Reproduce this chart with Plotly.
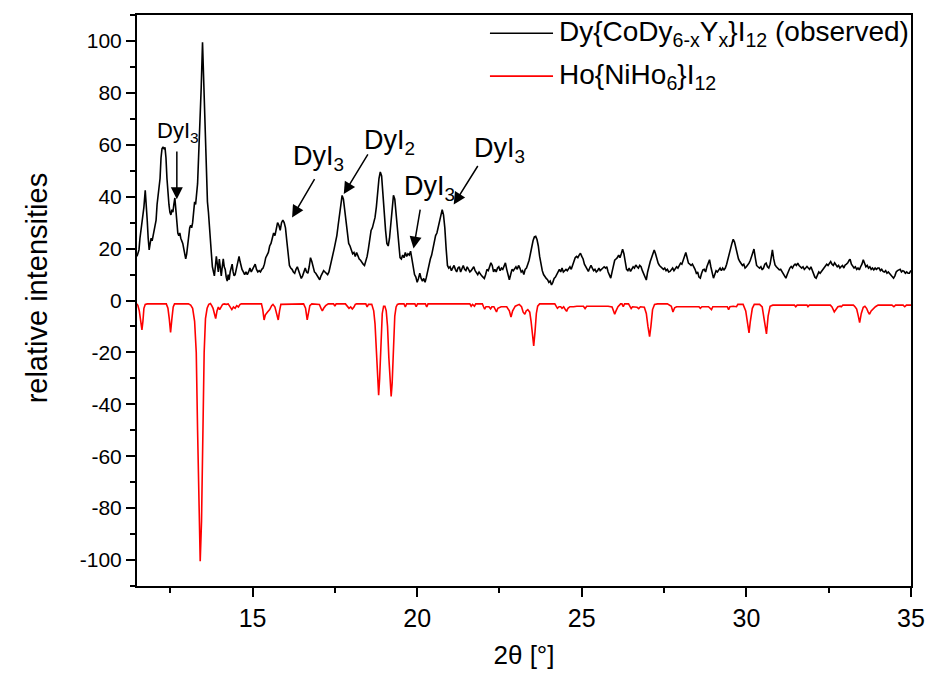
import plotly.graph_objects as go

# observed powder pattern: (2theta, relative intensity)
obs_points = [
    (11.49, 17), (11.52, 18), (11.55, 19.5), (11.58, 24), (11.61, 27), (11.64, 30), (11.67, 32), (11.70, 36),
    (11.74, 42.5), (11.77, 38), (11.80, 31), (11.83, 24), (11.86, 19.5), (11.89, 22), (11.92, 24), (11.95, 23),
    (11.98, 25), (12.01, 28), (12.04, 30), (12.07, 31), (12.10, 37), (12.13, 40), (12.16, 42), (12.19, 47),
    (12.22, 55), (12.25, 58.5), (12.28, 59), (12.31, 58.5), (12.34, 59), (12.37, 55), (12.40, 47), (12.43, 41),
    (12.46, 37), (12.49, 34), (12.52, 33), (12.55, 35), (12.58, 34), (12.61, 37), (12.64, 39.5), (12.67, 35),
    (12.70, 30), (12.73, 26), (12.76, 25), (12.79, 26), (12.82, 24), (12.85, 23), (12.88, 22), (12.91, 20),
    (12.94, 18), (12.97, 16), (13.00, 18), (13.03, 22), (13.06, 26), (13.09, 28), (13.12, 29), (13.15, 28),
    (13.18, 30), (13.21, 36), (13.24, 38), (13.27, 37), (13.30, 40), (13.33, 45), (13.36, 55), (13.40, 67),
    (13.44, 82), (13.48, 99.5), (13.52, 84), (13.56, 66), (13.60, 48), (13.63, 38), (13.66, 34), (13.69, 27),
    (13.72, 20), (13.75, 18), (13.78, 13), (13.81, 11), (13.84, 9.5), (13.87, 13), (13.90, 17), (13.93, 14),
    (13.96, 11), (13.99, 16), (14.02, 12), (14.05, 9.5), (14.08, 13), (14.11, 16), (14.14, 13), (14.17, 12),
    (14.20, 9), (14.23, 7.5), (14.26, 10), (14.29, 8), (14.32, 11), (14.35, 13), (14.38, 14), (14.41, 11),
    (14.44, 9.5), (14.47, 10), (14.50, 12), (14.53, 14), (14.56, 16), (14.59, 17), (14.62, 15), (14.65, 13),
    (14.68, 12), (14.72, 11), (14.76, 10), (14.80, 11), (14.84, 10), (14.88, 11), (14.92, 12.5), (14.96, 11),
    (15.00, 12), (15.04, 13.5), (15.08, 14), (15.12, 12), (15.16, 11), (15.20, 11.5), (15.24, 11), (15.28, 12),
    (15.32, 12.5), (15.36, 14), (15.40, 16.5), (15.44, 17.5), (15.48, 18.5), (15.52, 21), (15.56, 22), (15.60, 24),
    (15.64, 26), (15.68, 25), (15.72, 28), (15.76, 30), (15.80, 29), (15.84, 27), (15.88, 30), (15.92, 31),
    (15.96, 30), (16.00, 28), (16.04, 23), (16.08, 17), (16.12, 13.5), (16.16, 12.5), (16.20, 12), (16.24, 11),
    (16.28, 10.5), (16.32, 12), (16.36, 13), (16.40, 11.5), (16.44, 10), (16.48, 8.5), (16.52, 9.5), (16.56, 11),
    (16.60, 12.5), (16.64, 11), (16.68, 10.5), (16.72, 13), (16.76, 16.5), (16.80, 15), (16.84, 13), (16.88, 11),
    (16.92, 10.5), (16.96, 9.5), (17.00, 9), (17.04, 8), (17.08, 9.5), (17.12, 10.5), (17.16, 11.5), (17.20, 11),
    (17.24, 10.5), (17.28, 10), (17.32, 11), (17.36, 13), (17.40, 15), (17.44, 18), (17.48, 20), (17.52, 22.5),
    (17.56, 25), (17.60, 29), (17.64, 33), (17.68, 37), (17.72, 40.5), (17.76, 39), (17.80, 35), (17.84, 30),
    (17.88, 26), (17.92, 22), (17.96, 21), (18.00, 19.5), (18.04, 18), (18.08, 18.5), (18.12, 17), (18.16, 18.5),
    (18.20, 17), (18.24, 16), (18.28, 15.5), (18.32, 14.5), (18.36, 14), (18.40, 13.5), (18.44, 15), (18.48, 17),
    (18.52, 20), (18.56, 24), (18.60, 27), (18.64, 28), (18.68, 30), (18.72, 32), (18.76, 36), (18.80, 42),
    (18.84, 47), (18.88, 49.5), (18.92, 48), (18.96, 41), (19.00, 33), (19.04, 27), (19.08, 22), (19.12, 21),
    (19.16, 24), (19.20, 30), (19.24, 37), (19.28, 40.5), (19.32, 39), (19.36, 33), (19.40, 26), (19.44, 20),
    (19.48, 16.5), (19.52, 16), (19.56, 17.5), (19.60, 16.5), (19.64, 18.5), (19.68, 17), (19.72, 18), (19.76, 17.5),
    (19.80, 19), (19.84, 16), (19.88, 13), (19.92, 10), (19.96, 9), (20.00, 7), (20.04, 8.5), (20.08, 10.5),
    (20.12, 8.5), (20.16, 7.5), (20.20, 8.5), (20.24, 7), (20.28, 9), (20.32, 11.5), (20.36, 13), (20.40, 16),
    (20.44, 17.5), (20.48, 20), (20.52, 22.5), (20.56, 25), (20.60, 26), (20.64, 28), (20.68, 31), (20.72, 33),
    (20.76, 35), (20.80, 33), (20.84, 28), (20.88, 20), (20.92, 13.5), (20.96, 12.5), (21.00, 13), (21.04, 11.5),
    (21.08, 12.5), (21.12, 13.5), (21.16, 12), (21.20, 11), (21.24, 12.5), (21.28, 13), (21.32, 11), (21.36, 12),
    (21.40, 13.5), (21.44, 12), (21.48, 11.5), (21.52, 13), (21.56, 12), (21.60, 11), (21.64, 11.5), (21.68, 12.5),
    (21.72, 13), (21.76, 11.5), (21.80, 10.5), (21.84, 10), (21.88, 11), (21.92, 10), (21.96, 9.5), (22.00, 9),
    (22.04, 8.5), (22.08, 10), (22.12, 12), (22.16, 11.5), (22.20, 13), (22.24, 14.5), (22.28, 13.5), (22.32, 11),
    (22.36, 12), (22.40, 11), (22.44, 12.5), (22.48, 13), (22.52, 11.5), (22.56, 12.5), (22.60, 12), (22.64, 13.5),
    (22.68, 14.5), (22.72, 12), (22.76, 10), (22.80, 8), (22.84, 10), (22.88, 12), (22.92, 11.5), (22.96, 12.5),
    (23.00, 13), (23.04, 12), (23.08, 13.5), (23.12, 12.5), (23.16, 11), (23.20, 11.5), (23.24, 10), (23.28, 12),
    (23.32, 12.5), (23.36, 14), (23.40, 15.5), (23.44, 18), (23.48, 21), (23.52, 23), (23.56, 24.5), (23.60, 24.7),
    (23.64, 23.5), (23.68, 21), (23.72, 17), (23.76, 14), (23.80, 11.5), (23.84, 10), (23.88, 9), (23.92, 8.5),
    (23.96, 8), (24.00, 7), (24.04, 7.5), (24.08, 6), (24.12, 7), (24.16, 8.5), (24.20, 9), (24.24, 10),
    (24.28, 11.5), (24.32, 12), (24.36, 11), (24.40, 12.5), (24.44, 11), (24.48, 11.5), (24.52, 12), (24.56, 11.5),
    (24.60, 12.5), (24.64, 13), (24.68, 12), (24.72, 13.5), (24.76, 15), (24.80, 16.5), (24.84, 17), (24.88, 16.5),
    (24.92, 17.5), (24.96, 18.2), (25.00, 17), (25.04, 16), (25.08, 14), (25.12, 13), (25.16, 12), (25.20, 11.2),
    (25.24, 12.5), (25.28, 13.5), (25.32, 12.5), (25.36, 11.5), (25.40, 12), (25.44, 11), (25.48, 11.5), (25.52, 12.5),
    (25.56, 11.5), (25.60, 12), (25.64, 12.5), (25.68, 13), (25.72, 12.5), (25.76, 13), (25.80, 11), (25.84, 9.5),
    (25.88, 8.6), (25.92, 11), (25.96, 13.5), (26.00, 15.5), (26.04, 16), (26.08, 16.5), (26.12, 17.5), (26.16, 16.5),
    (26.20, 18), (26.24, 19.8), (26.28, 18), (26.32, 14), (26.36, 12), (26.40, 11.5), (26.44, 12.5), (26.48, 11.2),
    (26.52, 12), (26.56, 13), (26.60, 12.5), (26.64, 13.7), (26.68, 13), (26.72, 12.5), (26.76, 13.5), (26.80, 13),
    (26.84, 11.5), (26.88, 10.5), (26.92, 9), (26.96, 7.9), (27.00, 11), (27.04, 13.5), (27.08, 15), (27.12, 16.5),
    (27.16, 18), (27.20, 19.5), (27.24, 18), (27.28, 15.5), (27.32, 14.4), (27.36, 13.5), (27.40, 13), (27.44, 12.5),
    (27.48, 12), (27.52, 12.5), (27.56, 11.5), (27.60, 12), (27.64, 11), (27.68, 11.2), (27.72, 12), (27.76, 12.5),
    (27.80, 11.5), (27.84, 12.5), (27.88, 13), (27.92, 12.5), (27.96, 13.5), (28.00, 14.4), (28.04, 14), (28.08, 15.5),
    (28.12, 17), (28.16, 18.5), (28.20, 16.5), (28.24, 14.4), (28.28, 14), (28.32, 13.5), (28.36, 14), (28.40, 13.1),
    (28.44, 12), (28.48, 10.5), (28.52, 11), (28.56, 9), (28.60, 8.6), (28.64, 10.5), (28.68, 11.8), (28.72, 12),
    (28.76, 11), (28.80, 13), (28.84, 14.5), (28.88, 15.7), (28.92, 13), (28.96, 10), (29.00, 8.6), (29.04, 10),
    (29.08, 11.5), (29.12, 11), (29.16, 11.8), (29.20, 12.5), (29.24, 11.5), (29.28, 12.5), (29.32, 11.8), (29.36, 12.5),
    (29.40, 14), (29.44, 15.7), (29.48, 17.5), (29.52, 20), (29.56, 22), (29.60, 23.6), (29.64, 22.5), (29.68, 20),
    (29.72, 18.2), (29.76, 16), (29.80, 15), (29.84, 14.4), (29.88, 13.5), (29.92, 14), (29.96, 12.5), (30.00, 13),
    (30.04, 13.5), (30.08, 14.4), (30.12, 15.5), (30.16, 17), (30.20, 19), (30.23, 19.8), (30.27, 16.5), (30.31, 13.5),
    (30.35, 13), (30.40, 12.5), (30.44, 13), (30.48, 11.8), (30.52, 12.5), (30.56, 14), (30.60, 14.4), (30.64, 13),
    (30.68, 12.5), (30.72, 14), (30.76, 17), (30.79, 19.5), (30.83, 16), (30.87, 13.7), (30.91, 13), (30.95, 12.5),
    (31.00, 11.8), (31.04, 12), (31.08, 11), (31.12, 10.5), (31.16, 9.5), (31.20, 8.6), (31.24, 10), (31.28, 11.5),
    (31.32, 12.5), (31.36, 13.1), (31.40, 12.5), (31.44, 13.5), (31.48, 14), (31.52, 13.5), (31.56, 14.4), (31.60, 13.5),
    (31.64, 13), (31.68, 12.5), (31.72, 13), (31.76, 12), (31.80, 12.5), (31.84, 13.1), (31.88, 12.5), (31.92, 12),
    (31.96, 13), (32.00, 11.8), (32.04, 10.5), (32.08, 9), (32.12, 8.6), (32.16, 10), (32.20, 11), (32.24, 10.5),
    (32.28, 11.2), (32.32, 12), (32.36, 12.5), (32.40, 13.1), (32.44, 14), (32.48, 13.5), (32.52, 14.5), (32.56, 15),
    (32.60, 14), (32.64, 13.5), (32.68, 14.5), (32.72, 13.7), (32.76, 13), (32.80, 13.5), (32.84, 12.5), (32.88, 13.1),
    (32.92, 13.5), (32.96, 12.5), (33.00, 13.7), (33.04, 14), (33.08, 14.5), (33.12, 15.5), (33.15, 15.9), (33.19, 14),
    (33.23, 13), (33.27, 12.5), (33.31, 13), (33.35, 12), (33.39, 12.5), (33.43, 11.8), (33.47, 13), (33.51, 14),
    (33.55, 15.7), (33.59, 14.5), (33.63, 13), (33.67, 13.5), (33.71, 12.5), (33.75, 13), (33.79, 12), (33.83, 12.5),
    (33.87, 11.8), (33.91, 12.5), (33.95, 12), (33.99, 12.5), (34.03, 12.5), (34.07, 11.5), (34.11, 12), (34.15, 11.2),
    (34.19, 11), (34.23, 11.5), (34.27, 10.5), (34.31, 11), (34.35, 10.5), (34.39, 10), (34.43, 9.5), (34.47, 8.6),
    (34.51, 9.5), (34.55, 11), (34.59, 11.5), (34.63, 11.8), (34.67, 12), (34.71, 11), (34.75, 11.5), (34.79, 11.2),
    (34.83, 10.5), (34.87, 11), (34.91, 10.5), (34.95, 10.5), (35.00, 11.6),
]

# calculated pattern of Ho{NiHo6}I12, plotted downwards
calc_points = [
    (11.49, -1.3), (11.52, -2), (11.56, -4), (11.60, -8), (11.64, -11.3), (11.67, -8), (11.70, -3), (11.74, -1.5),
    (11.80, -1.3), (12.38, -1.3), (12.43, -3), (12.47, -7), (12.51, -12.3), (12.55, -7), (12.59, -2.5), (12.63, -1.3),
    (13.05, -1.3), (13.12, -1.8), (13.18, -3), (13.24, -8), (13.29, -20), (13.33, -50), (13.37, -85), (13.41, -100.5),
    (13.45, -85), (13.49, -50), (13.53, -20), (13.57, -7), (13.62, -3), (13.67, -1.5), (13.72, -1.2), (13.76, -2),
    (13.80, -3), (13.84, -5), (13.88, -7), (13.92, -4), (13.96, -2.5), (14.00, -3.5), (14.04, -2.5), (14.09, -1.5),
    (14.14, -1.3), (14.20, -1.5), (14.26, -1.3), (14.33, -2.5), (14.37, -3.5), (14.42, -2.5), (14.47, -3), (14.52, -2),
    (14.57, -2.5), (14.62, -1.5), (14.66, -1.3), (15.27, -1.3), (15.31, -3.5), (15.35, -7.5), (15.39, -5.5), (15.45, -4.5),
    (15.52, -3.5), (15.58, -2), (15.62, -1.5), (15.68, -2.5), (15.74, -5), (15.78, -7.5), (15.82, -4), (15.86, -1.5),
    (16.55, -1.3), (16.61, -3), (16.66, -7.5), (16.70, -4), (16.74, -2), (16.80, -1.3), (17.03, -1.5), (17.08, -3),
    (17.12, -4), (17.16, -3), (17.22, -2), (17.30, -1.3), (17.46, -1.3), (17.50, -2.2), (17.54, -1.3), (17.82, -1.3),
    (17.88, -2.2), (17.93, -3), (17.98, -2.5), (18.03, -3.3), (18.08, -2.5), (18.12, -1.5), (18.16, -1.3), (18.44, -1.3),
    (18.48, -2.5), (18.52, -1.5), (18.62, -1.5), (18.68, -4), (18.72, -9), (18.76, -20), (18.80, -33), (18.83, -36.5),
    (18.86, -30), (18.90, -15), (18.94, -5), (18.98, -2.2), (19.02, -2.2), (19.06, -4), (19.10, -10), (19.14, -22),
    (19.18, -34), (19.21, -37), (19.24, -32), (19.28, -16), (19.32, -6), (19.36, -2.5), (19.40, -1.5), (19.45, -1.3),
    (19.60, -1.3), (19.64, -2.5), (19.68, -1.3), (19.93, -1.3), (19.97, -2.4), (20.01, -1.3), (20.25, -1.3), (20.29, -2.5),
    (20.33, -1.3), (21.60, -1.3), (21.64, -2.2), (21.68, -1.5), (21.74, -2.2), (21.78, -1.3), (21.98, -1.3), (22.02, -2.5),
    (22.05, -3.3), (22.09, -2.4), (22.18, -2.4), (22.23, -3.2), (22.27, -2.4), (22.33, -2.4), (22.37, -3.5), (22.41, -4.4),
    (22.45, -3.0), (22.55, -2.4), (22.72, -2.4), (22.80, -4), (22.85, -6.4), (22.90, -4), (22.98, -2.2), (23.10, -1.5),
    (23.17, -2.4), (23.22, -4.5), (23.27, -5.3), (23.31, -4), (23.36, -3.5), (23.42, -4.5), (23.46, -8), (23.50, -14),
    (23.54, -17.5), (23.58, -12), (23.62, -5), (23.66, -2.2), (23.72, -1.3), (24.18, -1.3), (24.22, -2.5), (24.26, -3.0),
    (24.31, -2.4), (24.36, -2.4), (24.40, -3.0), (24.45, -2.4), (24.50, -3.5), (24.54, -4.2), (24.58, -3.0), (24.64, -2.4),
    (24.75, -2.4), (24.85, -2.2), (25.05, -2.2), (25.10, -3.1), (25.15, -2.2), (25.80, -2.2), (25.92, -2.5), (25.96, -4),
    (26.00, -5.3), (26.04, -4), (26.10, -2.4), (26.18, -1.3), (26.22, -1.3), (26.26, -2.4), (26.30, -1.3), (26.42, -1.3),
    (26.46, -2.5), (26.50, -3.1), (26.54, -2.4), (26.62, -2.4), (26.68, -2.6), (26.73, -3.1), (26.78, -2.4), (26.90, -2.6),
    (26.96, -5), (27.01, -10), (27.06, -13.9), (27.10, -10), (27.15, -3.5), (27.21, -1.5), (27.30, -1.3), (27.60, -1.3),
    (27.72, -2.2), (27.77, -4.4), (27.82, -2.8), (27.88, -2.4), (28.56, -2.4), (28.60, -3.0), (28.65, -2.4), (28.85, -2.4),
    (28.90, -3.0), (28.94, -3.5), (28.98, -2.4), (29.42, -2.4), (29.46, -3.5), (29.50, -2.4), (29.60, -2.2), (29.70, -2.4),
    (29.74, -1.5), (29.90, -1.5), (29.98, -4), (30.03, -9), (30.08, -12.5), (30.12, -8), (30.18, -3), (30.24, -1.5),
    (30.40, -1.5), (30.48, -2.5), (30.55, -8), (30.61, -12.9), (30.66, -6), (30.72, -2.2), (30.80, -1.8), (31.46, -1.8),
    (31.50, -2.4), (31.54, -1.8), (31.84, -1.8), (31.87, -2.4), (31.91, -1.8), (32.55, -1.8), (32.60, -2.5), (32.67, -4.4),
    (32.72, -3.5), (32.78, -2.4), (32.85, -2.2), (32.88, -2.4), (32.93, -1.8), (33.25, -1.8), (33.30, -2.4), (33.35, -3.3),
    (33.40, -6), (33.44, -8.5), (33.49, -5), (33.55, -2.6), (33.60, -2.2), (33.65, -3), (33.70, -4.5), (33.74, -5.3),
    (33.79, -4), (33.86, -3), (33.92, -2.4), (34.00, -1.8), (34.42, -1.8), (34.48, -2.4), (34.53, -1.8), (34.76, -1.8),
    (34.81, -2.4), (34.86, -1.8), (35.00, -1.8),
]

series_names = ["Dy{CoDy<sub>6-x</sub>Y<sub>x</sub>}I<sub>12</sub> (observed)", "Ho{NiHo<sub>6</sub>}I<sub>12</sub>"]
series_colors = ["#000000", "#ff0000"]

# phase labels: text, arrow head (peak), arrow tail, label centre
label_texts = ["DyI<sub>3</sub>", "DyI<sub>3</sub>", "DyI<sub>2</sub>", "DyI<sub>3</sub>", "DyI<sub>3</sub>"]
label_heads = [(12.70, 39), (16.20, 32), (17.77, 41), (19.89, 20), (21.11, 37)]
label_tails = [(12.70, 58), (16.91, 47.3), (18.53, 56.9), (20.10, 35.6), (21.87, 52.4)]
label_pos = [(12.74, 65), (17.0, 55), (19.15, 61), (20.37, 43.5), (22.50, 58)]
label_sizes = [22, 27, 27, 27, 27]

x_ticks = [15, 20, 25, 30, 35]
y_ticks = [-100, -80, -60, -40, -20, 0, 20, 40, 60, 80, 100]
y_tick_text = [str(v) for v in y_ticks]

SANS = "Liberation Sans, Arial, sans-serif"
NARROW = "Liberation Sans Narrow, Arial Narrow, Liberation Sans, sans-serif"

fig = go.Figure()
for pts, name, col in zip([obs_points, calc_points], series_names, series_colors):
    xs, ys = zip(*pts)
    fig.add_trace(go.Scatter(x=list(xs), y=list(ys), mode="lines", name=name,
                             line=dict(color=col, width=1.6), showlegend=False))

annotations = []
for txt, head, tail, pos, sz in zip(label_texts, label_heads, label_tails, label_pos, label_sizes):
    annotations.append(dict(x=head[0], y=head[1], ax=tail[0], ay=tail[1], xref="x", yref="y",
                            axref="x", ayref="y", text="", showarrow=True, arrowhead=2,
                            arrowsize=1.6, arrowwidth=1.5, arrowcolor="black"))
    annotations.append(dict(x=pos[0], y=pos[1], xref="x", yref="y", text=txt, showarrow=False,
                            xanchor="center", yanchor="middle",
                            font=dict(family=SANS, size=sz, color="black")))

# legend drawn in paper coordinates
legend_rows_y = [0.968, 0.893]
shapes = []
for name, col, ly in zip(series_names, series_colors, legend_rows_y):
    shapes.append(dict(type="line", xref="paper", yref="paper", x0=0.456, x1=0.5375, y0=ly, y1=ly,
                       line=dict(color=col, width=1.6)))
    annotations.append(dict(x=0.543, y=ly, xref="paper", yref="paper", text=name, showarrow=False,
                            xanchor="left", yanchor="middle",
                            font=dict(family=SANS, size=28, color="black")))

# vertical axis title
annotations.append(dict(x=-0.1292, y=0.523, xref="paper", yref="paper", text="relative intensities",
                        textangle=-90, showarrow=False, xanchor="center", yanchor="middle",
                        font=dict(family=SANS, size=29, color="black")))

fig.update_layout(
    width=925, height=675,
    margin=dict(l=137, r=14, t=15, b=89, autoexpand=False),
    paper_bgcolor="white", plot_bgcolor="white",
    annotations=annotations, shapes=shapes,
    showlegend=False,
)
fig.update_xaxes(
    range=[11.49, 35], tickvals=x_ticks, ticks="outside", ticklen=9, tickwidth=1.5, tickcolor="black",
    minor=dict(tickvals=[12.5, 17.5, 22.5, 27.5, 32.5], ticks="outside", ticklen=5, tickwidth=1.5, tickcolor="black"),
    showline=True, linewidth=2, linecolor="black", mirror=True, showgrid=False, zeroline=False,
    automargin=False, ticklabeloverflow="allow",
    tickfont=dict(family=NARROW, size=25, color="black"),
    title=dict(text="2θ [°]", font=dict(family=NARROW, size=26, color="black")),
)
fig.update_yaxes(
    range=[-110, 110], tickvals=y_ticks, ticktext=y_tick_text, ticks="outside", ticklen=9, tickwidth=1.5,
    tickcolor="black",
    minor=dict(dtick=10, tick0=0, ticks="outside", ticklen=5, tickwidth=1.5, tickcolor="black"),
    showline=True, linewidth=2, linecolor="black", mirror=True, showgrid=False, zeroline=False,
    automargin=False,
    tickfont=dict(family=SANS, size=21, color="black"),
)

fig.write_html("out.html")
